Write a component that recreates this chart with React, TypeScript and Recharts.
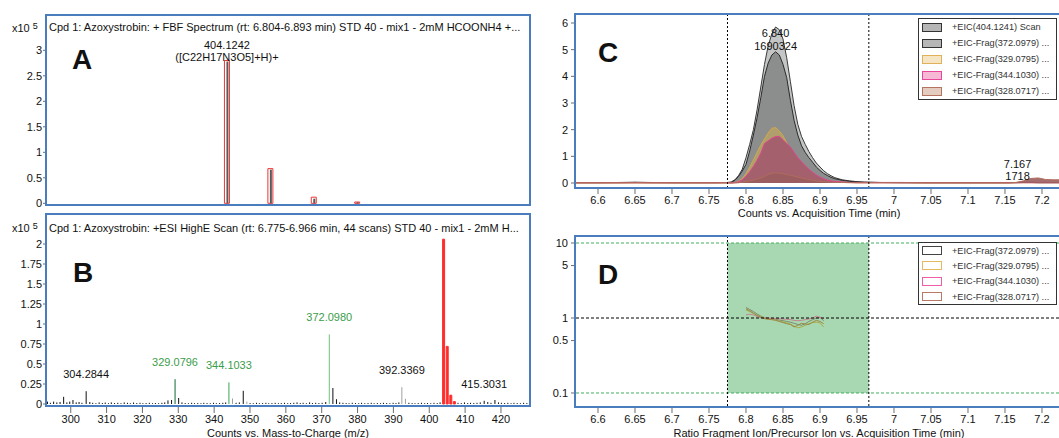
import React from 'react';
import {
  Area,
  Bar,
  ComposedChart,
  LabelList,
  Line,
  ReferenceArea,
  ReferenceDot,
  ReferenceLine,
  XAxis,
  YAxis,
} from 'recharts';

const FONT = '"Liberation Sans", Arial, Helvetica, sans-serif';
const FRAME_BLUE = '#4a7dbd';
const TICK = { fontSize: 11, fill: '#111' };
const TICK_LINE = { stroke: '#6d6d6d' };

// ---------- panel A: FBF spectrum (isotope pattern) ----------
const A_MZ = [404.1242, 405.1275, 406.1301, 407.1326];
const A_THEORETICAL = [2.8, 0.68, 0.12, 0.025];
const A_MEASURED = [2.78, 0.66, 0.09, 0.02];
const A_PEAK = { mz: 404.1242, formula: '([C22H17N3O5]+H)+' };
const A_Y_TICKS = [0, 0.5, 1, 1.5, 2, 2.5, 3];

// ---------- panel B: HighE scan ----------
const B_PRECURSOR: [number, number][] = [
  [404.1242, 2.06], [405.128, 0.72], [406.13, 0.11], [407.133, 0.03],
];
const B_FRAGMENTS: [number, number][] = [
  [293.5, 0.03], [294.3, 0.015], [295.2, 0.03], [296.1, 0.02], [297.0, 0.025], [298.0, 0.09],
  [298.9, 0.02], [299.7, 0.03], [300.6, 0.05], [301.5, 0.02], [302.3, 0.025], [303.1, 0.015],
  [304.2844, 0.16], [305.3, 0.025], [306.1, 0.015], [307.0, 0.01], [307.9, 0.02], [308.8, 0.012],
  [309.6, 0.018], [310.5, 0.01], [311.3, 0.02], [312.2, 0.012], [313.1, 0.015], [314.0, 0.01],
  [314.9, 0.02], [315.8, 0.015], [316.6, 0.01], [317.5, 0.018], [318.4, 0.012], [319.3, 0.015],
  [320.1, 0.01], [321.0, 0.012], [321.9, 0.015], [322.8, 0.01], [323.6, 0.012], [324.5, 0.01],
  [325.4, 0.015], [326.2, 0.02], [327.1, 0.045], [328.1, 0.05], [329.0796, 0.31], [330.08, 0.075],
  [331.0, 0.02], [331.9, 0.012], [332.8, 0.01], [333.7, 0.015], [334.5, 0.01], [335.4, 0.012],
  [336.3, 0.01], [337.1, 0.015], [338.0, 0.012], [338.9, 0.01], [339.8, 0.015], [340.6, 0.01],
  [341.5, 0.012], [342.4, 0.015], [343.2, 0.02], [344.1033, 0.27], [345.1, 0.07], [346.1, 0.015],
  [347.0, 0.02], [348.1, 0.165], [349.1, 0.03], [350.0, 0.012], [350.9, 0.01], [351.8, 0.015],
  [352.6, 0.01], [353.5, 0.012], [354.4, 0.015], [355.2, 0.01], [356.1, 0.012], [357.0, 0.015],
  [357.9, 0.01], [358.7, 0.012], [359.6, 0.015], [360.5, 0.01], [361.3, 0.012], [362.2, 0.015],
  [363.1, 0.02], [364.0, 0.012], [364.8, 0.015], [365.7, 0.01], [366.6, 0.02], [367.4, 0.012],
  [368.3, 0.015], [369.2, 0.012], [370.1, 0.015], [371.1, 0.025], [372.098, 0.87], [373.1, 0.2],
  [374.1, 0.06], [375.0, 0.02], [375.9, 0.015], [376.8, 0.012], [377.6, 0.01], [378.5, 0.015],
  [379.4, 0.012], [380.3, 0.01], [381.1, 0.015], [382.0, 0.01], [382.9, 0.012], [383.8, 0.015],
  [384.6, 0.01], [385.5, 0.012], [386.4, 0.01], [387.2, 0.015], [388.1, 0.012], [389.0, 0.01],
  [389.9, 0.015], [390.7, 0.012], [391.5, 0.02], [392.3369, 0.21], [393.34, 0.065], [394.3, 0.015],
  [395.2, 0.012], [396.0, 0.01], [396.9, 0.012], [397.8, 0.015], [398.7, 0.01], [399.5, 0.012],
  [400.4, 0.01], [401.3, 0.015], [402.2, 0.012], [403.0, 0.02], [408.0, 0.015], [408.9, 0.012],
  [409.8, 0.02], [410.7, 0.012], [411.5, 0.015], [412.4, 0.012], [413.3, 0.015], [414.2, 0.02],
  [415.3031, 0.04], [416.3, 0.025], [417.2, 0.015], [418.3, 0.05], [419.3, 0.02], [420.1, 0.015],
  [421.0, 0.012], [421.9, 0.015], [422.8, 0.01], [423.6, 0.015], [424.5, 0.012], [425.4, 0.01],
  [426.3, 0.015], [427.2, 0.012],
];
const B_LABELED = [304.2844, 329.0796, 344.1033, 372.098, 392.3369, 415.3031];
const B_GREEN_IONS = [329.0796, 344.1033, 372.098];
const B_GRAY_IONS = [345.1, 349.1, 392.3369, 393.34];
const B_X_TICKS = [300, 310, 320, 330, 340, 350, 360, 370, 380, 390, 400, 410, 420];
const B_Y_TICKS = [0, 0.25, 0.5, 0.75, 1, 1.25, 1.5, 1.75, 2];

// ---------- panel C: extracted ion chromatograms ----------
const C_TIME = [
  6.57, 6.6, 6.63, 6.65, 6.67, 6.7, 6.73, 6.76, 6.775,
  6.78, 6.785, 6.79, 6.795, 6.8, 6.805, 6.81, 6.815, 6.82, 6.825, 6.83, 6.835, 6.84, 6.845, 6.85,
  6.855, 6.86, 6.865, 6.87, 6.875, 6.88, 6.885, 6.89, 6.895, 6.9, 6.905, 6.91, 6.915, 6.92, 6.93,
  6.94, 6.95, 6.96,
  6.98, 7.01, 7.04, 7.07, 7.1, 7.13, 7.155, 7.165, 7.175, 7.185, 7.195, 7.205, 7.215, 7.227,
];
const C_SCAN = [
  0.01, 0.01, 0.02, 0.03, 0.02, 0.01, 0.01, 0.01, 0.02,
  0.04, 0.12, 0.28, 0.52, 0.95, 1.45, 2.0, 2.75, 3.6, 4.45, 5.15, 5.6, 5.85, 5.75, 5.4,
  4.7, 3.8, 2.9, 2.2, 1.75, 1.45, 1.18, 0.95, 0.75, 0.6, 0.46, 0.35, 0.27, 0.2, 0.12,
  0.08, 0.05, 0.03,
  0.02, 0.02, 0.01, 0.01, 0.01, 0.01, 0.01, 0.02, 0.03, 0.03, 0.02, 0.02, 0.02, 0.02,
];
const C_FRAG372 = [
  0.01, 0.01, 0.01, 0.02, 0.01, 0.01, 0.01, 0.01, 0.01,
  0.02, 0.1, 0.25, 0.45, 0.7, 1.2, 1.8, 2.45, 3.2, 4.0, 4.5, 4.8, 4.92, 4.8, 4.45,
  3.95, 3.1, 2.35, 1.8, 1.4, 1.15, 0.95, 0.78, 0.6, 0.47, 0.36, 0.28, 0.21, 0.16, 0.1,
  0.06, 0.04, 0.03,
  0.02, 0.01, 0.01, 0.01, 0.01, 0.01, 0.01, 0.01, 0.02, 0.02, 0.01, 0.01, 0.01, 0.01,
];
const C_FRAG329 = [
  0, 0, 0, 0, 0, 0, 0, 0, 0,
  0, 0.02, 0.06, 0.17, 0.35, 0.6, 0.86, 1.15, 1.42, 1.65, 1.88, 2.05, 2.08, 1.95, 1.78,
  1.5, 1.2, 0.95, 0.72, 0.55, 0.42, 0.32, 0.25, 0.18, 0.13, 0.09, 0.07, 0.05, 0.04, 0.03,
  0.02, 0.01, 0.01,
  0.01, 0.01, 0, 0, 0, 0, 0, 0.01, 0.01, 0.01, 0.01, 0.01, 0.01, 0.01,
];
const C_FRAG344 = [
  0.01, 0.01, 0.01, 0.01, 0.01, 0.01, 0.01, 0.01, 0.01,
  0, 0.02, 0.05, 0.12, 0.25, 0.42, 0.62, 0.85, 1.12, 1.48, 1.58, 1.68, 1.74, 1.75, 1.62,
  1.48, 1.35, 1.15, 0.95, 0.8, 0.65, 0.52, 0.4, 0.3, 0.22, 0.16, 0.11, 0.08, 0.06, 0.04,
  0.02, 0.01, 0.01,
  0.01, 0.01, 0.01, 0.01, 0.01, 0.01, 0.01, 0.01, 0.01, 0.01, 0.01, 0.01, 0.01, 0.01,
];
const C_FRAG328 = [
  0.01, 0.01, 0.01, 0.01, 0.01, 0.01, 0.01, 0.01, 0.01,
  0, 0, 0.01, 0.03, 0.05, 0.08, 0.11, 0.15, 0.19, 0.25, 0.32, 0.37, 0.38, 0.37, 0.35,
  0.32, 0.29, 0.26, 0.22, 0.19, 0.16, 0.13, 0.1, 0.08, 0.06, 0.05, 0.04, 0.03, 0.02, 0.02,
  0.01, 0.01, 0.01,
  0.01, 0.01, 0.01, 0.01, 0.01, 0.01, 0.01, 0.02, 0.08, 0.17, 0.19, 0.13, 0.12, 0.12,
];
const C_PEAKS = [
  { rt: 6.84, area: '1690324' },
  { rt: 7.167, area: '1718' },
];
const C_Y_TICKS = [0, 1, 2, 3, 4, 5, 6];
const TIME_TICKS = [6.6, 6.65, 6.7, 6.75, 6.8, 6.85, 6.9, 6.95, 7, 7.05, 7.1, 7.15, 7.2];
const RT_START = 6.775;
const RT_END = 6.966;

// ---------- panel D: qualifier ratios ----------
const D_TIME = [
  6.8, 6.805, 6.81, 6.815, 6.82, 6.825, 6.83, 6.835, 6.84, 6.845, 6.85,
  6.855, 6.86, 6.865, 6.87, 6.875, 6.88, 6.885, 6.89, 6.895, 6.9, 6.905,
];
const D_FRAG372 = [1.38, 1.3, 1.22, 1.13, 1.06, 1.01, 0.99, 0.97, 0.96, 0.94, 0.92, 0.9, 0.88, 0.85, 0.82, 0.8, 0.84, 0.9, 0.95, 1.0, 1.02, 0.92];
const D_FRAG329 = [1.28, 1.22, 1.15, 1.08, 1.03, 1.0, 0.98, 0.96, 0.94, 0.91, 0.88, 0.86, 0.83, 0.78, 0.74, 0.76, 0.8, 0.84, 0.87, 0.88, 0.86, 0.76];
const D_FRAG344 = [1.1, 1.12, 1.1, 1.05, 1.01, 1.0, 1.0, 0.99, 0.98, 0.98, 0.97, 0.96, 0.95, 0.93, 0.92, 0.93, 0.95, 0.97, 1.0, 1.06, 1.02, 0.98];
const D_FRAG328 = [1.32, 1.25, 1.16, 1.08, 1.02, 0.98, 0.96, 0.95, 0.93, 0.9, 0.87, 0.84, 0.82, 0.76, 0.8, 0.85, 0.83, 0.82, 0.88, 0.93, 0.9, 0.84];
const D_Y_TICKS = [0.1, 0.5, 1, 5, 10];
const D_LIMITS = { low: 0.1, target: 1, high: 10 };

const C_LEGEND = [
  { label: '+EIC(404.1241) Scan', fill: '#b6b6b6', stroke: '#333' },
  { label: '+EIC-Frag(372.0979) ...', fill: '#b6b6b6', stroke: '#333' },
  { label: '+EIC-Frag(329.0795) ...', fill: '#f6e5c4', stroke: '#e0b158' },
  { label: '+EIC-Frag(344.1030) ...', fill: '#f6b8d5', stroke: '#e6479a' },
  { label: '+EIC-Frag(328.0717) ...', fill: '#e4ccc0', stroke: '#b5745f' },
];
const D_LEGEND = [
  { label: '+EIC-Frag(372.0979) ...', fill: '#fff', stroke: '#444' },
  { label: '+EIC-Frag(329.0795) ...', fill: '#fff', stroke: '#e6b862' },
  { label: '+EIC-Frag(344.1030) ...', fill: '#fff', stroke: '#ee5fa6' },
  { label: '+EIC-Frag(328.0717) ...', fill: '#fff', stroke: '#b87a62' },
];

// tables for recharts
const aRows = A_MZ.map((mz, i) => ({
  mz,
  theoretical: A_THEORETICAL[i],
  measured: A_MEASURED[i],
  tag: mz === A_PEAK.mz ? mz.toFixed(4) : undefined,
}));

const bRows = [
  ...B_FRAGMENTS.map(([mz, counts]) => ({
    mz,
    minor: counts,
    tag: B_LABELED.includes(mz) ? mz.toFixed(4) : undefined,
  })),
  ...B_PRECURSOR.map(([mz, counts]) => ({ mz, main: counts })),
].sort((p, q) => p.mz - q.mz);

const cRows = C_TIME.map((t, i) => ({
  t,
  scan: C_SCAN[i],
  f372: C_FRAG372[i],
  f329: C_FRAG329[i],
  f344: C_FRAG344[i],
  f328: C_FRAG328[i],
}));

const dRows = D_TIME.map((t, i) => ({
  t,
  f372: D_FRAG372[i],
  f329: D_FRAG329[i],
  f344: D_FRAG344[i],
  f328: D_FRAG328[i],
}));

function stickColor(mz: number) {
  if (mz === 329.0796) return '#0e6a30';
  if (mz === 344.1033) return '#3aa65a';
  if (mz === 372.098) return '#6cc27d';
  if (B_GRAY_IONS.includes(mz)) return '#a0a0a0';
  return '#111';
}

function StickShape(props: any) {
  const { x, y, width, height, payload } = props;
  if (!height || !isFinite(height)) return <g />;
  return <rect x={x} y={y} width={width} height={height} fill={stickColor(payload.mz)} />;
}

function renderBLabel(props: any) {
  const { x, y, width, value } = props;
  if (!value) return null;
  const green = B_GREEN_IONS.some((m) => m.toFixed(4) === value);
  return (
    <text
      x={x + width / 2}
      y={y - 17}
      textAnchor="middle"
      dominantBaseline="central"
      fontSize={11}
      fill={green ? '#3b9d4b' : '#111'}
    >
      {value}
    </text>
  );
}

function renderALabel(props: any) {
  const { x, y, width, value } = props;
  if (!value) return null;
  return (
    <g fontSize={11} fill="#111" textAnchor="middle">
      <text x={x + width / 2} y={y - 16} dominantBaseline="central">{value}</text>
      <text x={x + width / 2} y={y - 4} dominantBaseline="central">{A_PEAK.formula}</text>
    </g>
  );
}

function PeakTag({ viewBox, lines }: any) {
  if (!viewBox) return null;
  const cx = viewBox.x + (viewBox.width || 0) / 2;
  const cy = viewBox.y + (viewBox.height || 0) / 2;
  return (
    <g>
      {lines.map((s: string, i: number) => (
        <text key={i} x={cx} y={cy - 18.5 + i * 12.5} textAnchor="middle" dominantBaseline="central" fontSize={11} fill="#111">
          {s}
        </text>
      ))}
    </g>
  );
}

function apexOf(rt: number) {
  let best = 0;
  C_TIME.forEach((t, i) => {
    if (Math.abs(t - rt) < Math.abs(C_TIME[best] - rt)) best = i;
  });
  return Math.max(C_FRAG372[best], C_FRAG328[best]);
}

function Frame({ left, top, width, height }: any) {
  return (
    <div
      style={{
        position: 'absolute', left, top, width, height, boxSizing: 'border-box',
        border: `2px solid ${FRAME_BLUE}`, pointerEvents: 'none',
      }}
    />
  );
}

function Txt({ left, top, size = 11, bold = false, children }: any) {
  return (
    <div style={{ position: 'absolute', left, top, fontSize: size, lineHeight: `${size === 11 ? 13 : size}px`, fontWeight: bold ? 700 : 400, whiteSpace: 'nowrap', color: '#111' }}>
      {children}
    </div>
  );
}

function Exponent({ left, top }: any) {
  return (
    <Txt left={left} top={top}>
      x10<span style={{ fontSize: 9, position: 'relative', top: -3, marginLeft: 3 }}>5</span>
    </Txt>
  );
}

function LegendBox({ left, top, width, rowHeight, items }: any) {
  return (
    <div style={{ position: 'absolute', left, top, width, border: '1px solid #333', background: '#fff' }}>
      {items.map((it: any) => (
        <div key={it.label} style={{ display: 'flex', alignItems: 'center', height: rowHeight }}>
          <span
            style={{
              display: 'inline-block', width: 20, height: 9, marginLeft: 3, boxSizing: 'border-box',
              background: it.fill, border: `1.5px solid ${it.stroke}`,
            }}
          />
          <span style={{ marginLeft: 10, fontSize: 9.2, color: '#333', whiteSpace: 'nowrap' }}>{it.label}</span>
        </div>
      ))}
    </div>
  );
}

function PanelA() {
  return (
    <ComposedChart width={531} height={212} data={aRows} margin={{ top: 16, right: 1, bottom: 8, left: 0 }}>
      <XAxis xAxisId="theo" dataKey="mz" type="number" domain={[399.94, 411.12]} allowDataOverflow hide height={0} />
      <XAxis xAxisId="meas" dataKey="mz" type="number" domain={[399.94, 411.12]} allowDataOverflow hide height={0} />
      <YAxis
        width={46} type="number" domain={[-0.0137, 3.673]} allowDataOverflow ticks={A_Y_TICKS} interval={0}
        axisLine={false} tick={TICK} tickLine={TICK_LINE} tickSize={3} tickMargin={1}
      />
      <Bar xAxisId="theo" dataKey="theoretical" barSize={5} fill="#fff" stroke="#ee3434" strokeWidth={1} isAnimationActive={false}>
        <LabelList dataKey="tag" content={renderALabel} />
      </Bar>
      <Bar xAxisId="meas" dataKey="measured" barSize={2} fill="#5a5a5a" isAnimationActive={false} />
    </ComposedChart>
  );
}

function PanelB() {
  return (
    <ComposedChart width={531} height={231} data={bRows} margin={{ top: 8, right: 1, bottom: 0, left: 0 }}>
      <XAxis
        xAxisId="minor" dataKey="mz" type="number" domain={[293.1, 428.1]} allowDataOverflow ticks={B_X_TICKS} interval={0}
        height={33} axisLine={false} tick={TICK} tickLine={TICK_LINE} tickSize={8} tickMargin={2}
        label={{ value: 'Counts vs. Mass-to-Charge (m/z)', position: 'insideBottom', offset: 1, fontSize: 11, fill: '#111' }}
      />
      <XAxis xAxisId="main" dataKey="mz" type="number" domain={[293.1, 428.1]} allowDataOverflow hide height={0} />
      <YAxis
        width={46} type="number" domain={[-0.0125, 2.3625]} allowDataOverflow ticks={B_Y_TICKS} interval={0}
        axisLine={false} tick={TICK} tickLine={TICK_LINE} tickSize={3} tickMargin={1}
      />
      <Bar xAxisId="minor" dataKey="minor" barSize={1} shape={<StickShape />} isAnimationActive={false}>
        <LabelList dataKey="tag" content={renderBLabel} />
      </Bar>
      <Bar xAxisId="main" dataKey="main" barSize={2} fill="#ff2d2d" stroke="#ff2d2d" strokeWidth={1} isAnimationActive={false} />
    </ComposedChart>
  );
}

function PanelC() {
  return (
    <ComposedChart width={532} height={222} data={cRows} margin={{ top: 15, right: 0, bottom: 0, left: 0 }}>
      <XAxis
        dataKey="t" type="number" domain={[6.57027, 7.22703]} allowDataOverflow ticks={TIME_TICKS} interval={0}
        height={34} axisLine={false} tick={TICK} tickLine={TICK_LINE} tickSize={6} tickMargin={2}
        label={{ value: 'Counts vs. Acquisition Time (min)', position: 'insideBottom', offset: 5, fontSize: 11, fill: '#111' }}
      />
      <YAxis
        width={46} type="number" domain={[-0.1875, 6.3]} allowDataOverflow ticks={C_Y_TICKS} interval={0}
        axisLine={false} tick={TICK} tickLine={TICK_LINE} tickSize={5} tickMargin={3}
      />
      <Area dataKey="scan" type="linear" fill="#c4c5c5" fillOpacity={1} stroke="#3a3a3a" strokeWidth={1} dot={false} activeDot={false} isAnimationActive={false} />
      <Area dataKey="f372" type="linear" fill="#8c8e8e" fillOpacity={1} stroke="#2a2a2a" strokeWidth={1} dot={false} activeDot={false} isAnimationActive={false} />
      <Area dataKey="f329" type="linear" fill="#b09f6c" fillOpacity={1} stroke="#d2a84c" strokeWidth={1} dot={false} activeDot={false} isAnimationActive={false} />
      <Area dataKey="f344" type="linear" fill="#a4616d" fillOpacity={1} stroke="#e0458e" strokeWidth={1} dot={false} activeDot={false} isAnimationActive={false} />
      <Area dataKey="f328" type="linear" fill="#9a5d5e" fillOpacity={0.9} stroke="#b06c5c" strokeWidth={1} dot={false} activeDot={false} isAnimationActive={false} />
      <ReferenceLine x={RT_START} stroke="#000" strokeDasharray="2 2" />
      <ReferenceLine x={RT_END} stroke="#000" strokeDasharray="2 2" />
      {C_PEAKS.map((p) => (
        <ReferenceDot
          key={p.rt} x={p.rt} y={apexOf(p.rt)} r={1} fill="none" stroke="none"
          label={<PeakTag lines={[p.rt.toFixed(3), p.area]} />}
        />
      ))}
    </ComposedChart>
  );
}

function PanelD() {
  return (
    <ComposedChart width={532} height={210} data={dRows} margin={{ top: 9, right: 0, bottom: 0, left: 0 }}>
      <XAxis
        dataKey="t" type="number" domain={[6.57027, 7.22703]} allowDataOverflow ticks={TIME_TICKS} interval={0}
        height={32} axisLine={false} tick={TICK} tickLine={TICK_LINE} tickSize={7} tickMargin={2}
        label={{ value: 'Ratio Fragment Ion/Precursor Ion vs. Acquisition Time (min)', position: 'insideBottom', offset: 1, fontSize: 11, fill: '#111' }}
      />
      <YAxis
        width={46} type="number" scale="log" domain={[0.06709, 12.023]} allowDataOverflow ticks={D_Y_TICKS} interval={0}
        axisLine={false} tick={TICK} tickLine={TICK_LINE} tickSize={5} tickMargin={3}
      />
      <ReferenceArea x1={RT_START} x2={RT_END} y1={D_LIMITS.low} y2={D_LIMITS.high} fill="#a8d8b1" fillOpacity={1} stroke="none" />
      <Line dataKey="f372" type="linear" stroke="#7d8c6c" strokeWidth={1} dot={false} activeDot={false} isAnimationActive={false} />
      <Line dataKey="f329" type="linear" stroke="#a9ad42" strokeWidth={1} dot={false} activeDot={false} isAnimationActive={false} />
      <Line dataKey="f344" type="linear" stroke="#c58390" strokeWidth={1} dot={false} activeDot={false} isAnimationActive={false} />
      <Line dataKey="f328" type="linear" stroke="#99894a" strokeWidth={1} dot={false} activeDot={false} isAnimationActive={false} />
      <ReferenceLine y={D_LIMITS.high} stroke="#3fae5f" strokeDasharray="3 2" />
      <ReferenceLine y={D_LIMITS.low} stroke="#3fae5f" strokeDasharray="3 2" />
      <ReferenceLine y={D_LIMITS.target} stroke="#000" strokeDasharray="3 2" />
      <ReferenceLine x={RT_START} stroke="#000" strokeDasharray="2 2" />
      <ReferenceLine x={RT_END} stroke="#000" strokeDasharray="2 2" />
    </ComposedChart>
  );
}

export default function App() {
  return (
    <div
      style={{
        position: 'fixed', left: 0, top: 0, width: 1059, height: 438, overflow: 'hidden',
        background: '#fff', fontFamily: FONT,
      }}
    >
      <div style={{ position: 'absolute', left: 0, top: 207 }}><PanelB /></div>
      <div style={{ position: 'absolute', left: 0, top: 0 }}><PanelA /></div>
      <div style={{ position: 'absolute', left: 530, top: 0 }}><PanelC /></div>
      <div style={{ position: 'absolute', left: 530, top: 228 }}><PanelD /></div>

      <Frame left={45} top={14} width={486} height={192} />
      <Frame left={45} top={213} width={486} height={194} />
      <Frame left={574} top={13} width={490} height={176} />
      <Frame left={574} top={235} width={490} height={173} />

      <Exponent left={12} top={22} />
      <Exponent left={12} top={222} />
      <Txt left={49} top={21}>
        Cpd 1: Azoxystrobin: + FBF Spectrum (rt: 6.804-6.893 min) STD 40 - mix1 - 2mM HCOONH4 +...
      </Txt>
      <Txt left={49} top={222}>
        Cpd 1: Azoxystrobin: +ESI HighE Scan (rt: 6.775-6.966 min, 44 scans) STD 40 - mix1 - 2mM H...
      </Txt>

      <Txt left={72} top={46} size={28} bold>A</Txt>
      <Txt left={73} top={259} size={28} bold>B</Txt>
      <Txt left={598} top={39} size={28} bold>C</Txt>
      <Txt left={598} top={261} size={28} bold>D</Txt>

      <LegendBox left={918} top={18} width={137} rowHeight={16} items={C_LEGEND} />
      <LegendBox left={918} top={242} width={137} rowHeight={15.3} items={D_LEGEND} />
    </div>
  );
}
